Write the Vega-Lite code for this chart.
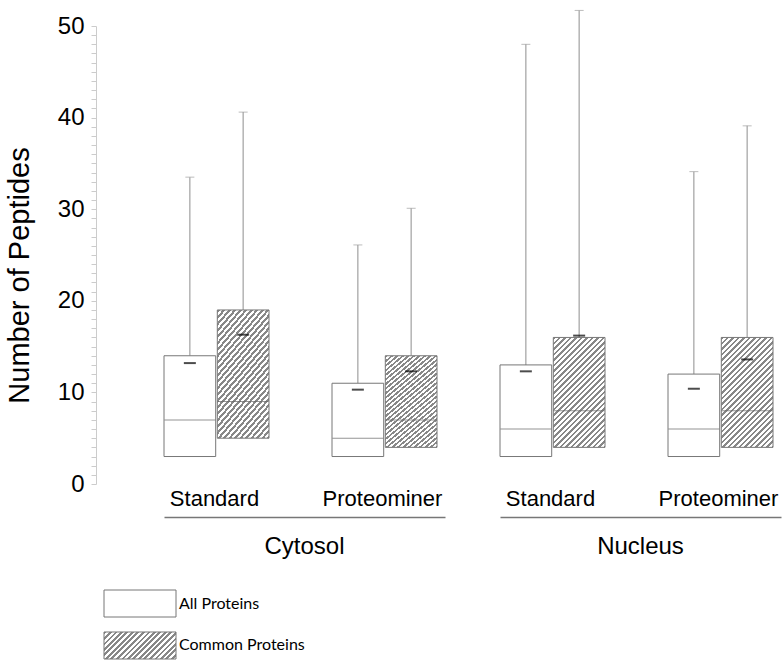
{
  "$schema": "https://vega.github.io/schema/vega-lite/v6.json",
  "padding": {"left": 5, "top": 9, "right": 4, "bottom": 5},
  "background": "white",
  "config": {"font": "Liberation Sans", "view": {"stroke": null}},
  "spacing": 30,
  "vconcat": [
    {
      "data": {"values": [
        {"compartment": "Cytosol", "method": "Standard", "set": "All", "q1": 3, "median": 7, "q3": 14, "max": 33.5, "mean": 13.2},
        {"compartment": "Cytosol", "method": "Standard", "set": "Common", "q1": 5, "median": 9, "q3": 19, "max": 40.6, "mean": 16.3},
        {"compartment": "Cytosol", "method": "Proteominer", "set": "All", "q1": 3, "median": 5, "q3": 11, "max": 26.1, "mean": 10.3},
        {"compartment": "Cytosol", "method": "Proteominer", "set": "Common", "q1": 4, "median": 7, "q3": 14, "max": 30.1, "mean": 12.3},
        {"compartment": "Nucleus", "method": "Standard", "set": "All", "q1": 3, "median": 6, "q3": 13, "max": 48, "mean": 12.3},
        {"compartment": "Nucleus", "method": "Standard", "set": "Common", "q1": 4, "median": 8, "q3": 16, "max": 51.7, "mean": 16.2},
        {"compartment": "Nucleus", "method": "Proteominer", "set": "All", "q1": 3, "median": 6, "q3": 12, "max": 34.1, "mean": 10.4},
        {"compartment": "Nucleus", "method": "Proteominer", "set": "Common", "q1": 4, "median": 8, "q3": 16, "max": 39.1, "mean": 13.6}
      ]},
      "facet": {"column": {"field": "compartment", "type": "nominal", "title": null, "sort": ["Cytosol", "Nucleus"],
        "header": {"labelOrient": "bottom", "labelFontSize": 24, "labelColor": "black", "labelPadding": 18, "labelFont": "Liberation Sans"}}},
      "spacing": 54,
      "spec": {
        "width": 281,
        "height": 458,
        "encoding": {
          "x": {"field": "method", "type": "nominal", "sort": ["Standard", "Proteominer"],
            "scale": {"domain": ["Standard", "Proteominer"], "paddingInner": 0.375, "paddingOuter": 0.0238, "align": 0},
            "axis": {"title": null, "orient": "bottom", "offset": 33, "ticks": false, "domainColor": "#777", "domainWidth": 1.5,
              "labelFontSize": 22, "labelColor": "black", "labelPadding": -12, "labelBaseline": "alphabetic", "labelAngle": 0, "labelOffset": -2}},
          "xOffset": {"field": "set", "type": "nominal", "scale": {"domain": ["All", "Common"], "paddingInner": 0.03, "paddingOuter": 0}}
        },
        "layer": [
          {"mark": {"type": "rule", "color": "#a0a0a0", "strokeWidth": 1.2},
           "encoding": {
             "y": {"field": "q3", "type": "quantitative", "title": "Number of Peptides", "scale": {"domain": [0, 50], "nice": false, "zero": true},
               "axis": {"titleFontSize": 29, "titleFontWeight": "normal", "titleColor": "black", "titlePadding": 23, "titleY": 249,
                 "values": [0,1,2,3,4,5,6,7,8,9,10,11,12,13,14,15,16,17,18,19,20,21,22,23,24,25,26,27,28,29,30,31,32,33,34,35,36,37,38,39,40,41,42,43,44,45,46,47,48,49,50],
                 "tickCount": 60,
                 "labelExpr": "datum.value % 10 == 0 ? datum.label : ''",
                 "labelFontSize": 24, "labelColor": "black", "labelPadding": 7, "labelOverlap": false,
                 "tickSize": 5,
                 "tickColor": "#ccc", "domainColor": "#ccc", "offset": 67, "grid": false}},
             "y2": {"field": "max"}}},
          {"mark": {"type": "tick", "color": "#a0a0a0", "size": 9, "thickness": 1},
           "encoding": {"y": {"field": "max", "type": "quantitative"}}},
          {"transform": [{"filter": "datum.set == 'All'"}],
           "mark": {"type": "bar", "fill": "white", "stroke": "#777", "strokeWidth": 1},
           "encoding": {"y": {"field": "q1", "type": "quantitative"}, "y2": {"field": "q3"}}},
          {"transform": [{"filter": "datum.set == 'Common'"}],
           "mark": {"type": "bar", "stroke": "#777", "strokeWidth": 1,
             "fill": {"gradient": "linear", "x1": 0, "y1": 0, "x2": 0.5778, "y2": 1.2282, "stops": [
{"offset":0,"color":"#888"},
{"offset":0.0167,"color":"#888"},{"offset":0.0167,"color":"#fff"},
{"offset":0.0333,"color":"#fff"},{"offset":0.0333,"color":"#888"},
{"offset":0.05,"color":"#888"},{"offset":0.05,"color":"#fff"},
{"offset":0.0667,"color":"#fff"},{"offset":0.0667,"color":"#888"},
{"offset":0.0833,"color":"#888"},{"offset":0.0833,"color":"#fff"},
{"offset":0.1,"color":"#fff"},{"offset":0.1,"color":"#888"},
{"offset":0.1167,"color":"#888"},{"offset":0.1167,"color":"#fff"},
{"offset":0.1333,"color":"#fff"},{"offset":0.1333,"color":"#888"},
{"offset":0.15,"color":"#888"},{"offset":0.15,"color":"#fff"},
{"offset":0.1667,"color":"#fff"},{"offset":0.1667,"color":"#888"},
{"offset":0.1833,"color":"#888"},{"offset":0.1833,"color":"#fff"},
{"offset":0.2,"color":"#fff"},{"offset":0.2,"color":"#888"},
{"offset":0.2167,"color":"#888"},{"offset":0.2167,"color":"#fff"},
{"offset":0.2333,"color":"#fff"},{"offset":0.2333,"color":"#888"},
{"offset":0.25,"color":"#888"},{"offset":0.25,"color":"#fff"},
{"offset":0.2667,"color":"#fff"},{"offset":0.2667,"color":"#888"},
{"offset":0.2833,"color":"#888"},{"offset":0.2833,"color":"#fff"},
{"offset":0.3,"color":"#fff"},{"offset":0.3,"color":"#888"},
{"offset":0.3167,"color":"#888"},{"offset":0.3167,"color":"#fff"},
{"offset":0.3333,"color":"#fff"},{"offset":0.3333,"color":"#888"},
{"offset":0.35,"color":"#888"},{"offset":0.35,"color":"#fff"},
{"offset":0.3667,"color":"#fff"},{"offset":0.3667,"color":"#888"},
{"offset":0.3833,"color":"#888"},{"offset":0.3833,"color":"#fff"},
{"offset":0.4,"color":"#fff"},{"offset":0.4,"color":"#888"},
{"offset":0.4167,"color":"#888"},{"offset":0.4167,"color":"#fff"},
{"offset":0.4333,"color":"#fff"},{"offset":0.4333,"color":"#888"},
{"offset":0.45,"color":"#888"},{"offset":0.45,"color":"#fff"},
{"offset":0.4667,"color":"#fff"},{"offset":0.4667,"color":"#888"},
{"offset":0.4833,"color":"#888"},{"offset":0.4833,"color":"#fff"},
{"offset":0.5,"color":"#fff"},{"offset":0.5,"color":"#888"},
{"offset":0.5167,"color":"#888"},{"offset":0.5167,"color":"#fff"},
{"offset":0.5333,"color":"#fff"},{"offset":0.5333,"color":"#888"},
{"offset":0.55,"color":"#888"},{"offset":0.55,"color":"#fff"},
{"offset":0.5667,"color":"#fff"},{"offset":0.5667,"color":"#888"},
{"offset":0.5833,"color":"#888"},{"offset":0.5833,"color":"#fff"},
{"offset":0.6,"color":"#fff"},{"offset":0.6,"color":"#888"},
{"offset":0.6167,"color":"#888"},{"offset":0.6167,"color":"#fff"},
{"offset":0.6333,"color":"#fff"},{"offset":0.6333,"color":"#888"},
{"offset":0.65,"color":"#888"},{"offset":0.65,"color":"#fff"},
{"offset":0.6667,"color":"#fff"},{"offset":0.6667,"color":"#888"},
{"offset":0.6833,"color":"#888"},{"offset":0.6833,"color":"#fff"},
{"offset":0.7,"color":"#fff"},{"offset":0.7,"color":"#888"},
{"offset":0.7167,"color":"#888"},{"offset":0.7167,"color":"#fff"},
{"offset":0.7333,"color":"#fff"},{"offset":0.7333,"color":"#888"},
{"offset":0.75,"color":"#888"},{"offset":0.75,"color":"#fff"},
{"offset":0.7667,"color":"#fff"},{"offset":0.7667,"color":"#888"},
{"offset":0.7833,"color":"#888"},{"offset":0.7833,"color":"#fff"},
{"offset":0.8,"color":"#fff"},{"offset":0.8,"color":"#888"},
{"offset":0.8167,"color":"#888"},{"offset":0.8167,"color":"#fff"},
{"offset":0.8333,"color":"#fff"},{"offset":0.8333,"color":"#888"},
{"offset":0.85,"color":"#888"},{"offset":0.85,"color":"#fff"},
{"offset":0.8667,"color":"#fff"},{"offset":0.8667,"color":"#888"},
{"offset":0.8833,"color":"#888"},{"offset":0.8833,"color":"#fff"},
{"offset":0.9,"color":"#fff"},{"offset":0.9,"color":"#888"},
{"offset":0.9167,"color":"#888"},{"offset":0.9167,"color":"#fff"},
{"offset":0.9333,"color":"#fff"},{"offset":0.9333,"color":"#888"},
{"offset":0.95,"color":"#888"},{"offset":0.95,"color":"#fff"},
{"offset":0.9667,"color":"#fff"},{"offset":0.9667,"color":"#888"},
{"offset":0.9833,"color":"#888"},{"offset":0.9833,"color":"#fff"},
{"offset":1,"color":"#fff"}]}},
           "encoding": {"y": {"field": "q1", "type": "quantitative"}, "y2": {"field": "q3"}}},
          {"mark": {"type": "tick", "color": "#666", "size": 51, "thickness": 1},
           "encoding": {"y": {"field": "median", "type": "quantitative"}}},
          {"mark": {"type": "tick", "color": "black", "size": 12, "thickness": 2},
           "encoding": {"y": {"field": "mean", "type": "quantitative"}}}
        ]
      }
    },
    {
      "width": 250,
      "height": 69,
      "data": {"values": [{"label": "All Proteins", "set": "All"}, {"label": "Common Proteins", "set": "Common"}]},
      "encoding": {"y": {"field": "label", "type": "nominal", "axis": null, "sort": null, "scale": {"paddingInner": 0.357, "paddingOuter": 0}}},
      "layer": [
        {"transform": [{"filter": "datum.set == 'All'"}],
         "mark": {"type": "bar", "fill": "white", "stroke": "#777", "strokeWidth": 1},
         "encoding": {"x": {"datum": -60, "type": "quantitative", "scale": {"domain": [0, 250], "nice": false, "zero": false}, "axis": null}, "x2": {"datum": 12}}},
        {"transform": [{"filter": "datum.set == 'Common'"}],
         "mark": {"type": "bar", "stroke": "#777", "strokeWidth": 1,
           "fill": {"gradient": "linear", "x1": 0, "y1": 0, "x2": 2.0091, "y2": 0.7534, "stops": [
{"offset":0,"color":"#888"},
{"offset":0.0167,"color":"#888"},{"offset":0.0167,"color":"#fff"},
{"offset":0.0333,"color":"#fff"},{"offset":0.0333,"color":"#888"},
{"offset":0.05,"color":"#888"},{"offset":0.05,"color":"#fff"},
{"offset":0.0667,"color":"#fff"},{"offset":0.0667,"color":"#888"},
{"offset":0.0833,"color":"#888"},{"offset":0.0833,"color":"#fff"},
{"offset":0.1,"color":"#fff"},{"offset":0.1,"color":"#888"},
{"offset":0.1167,"color":"#888"},{"offset":0.1167,"color":"#fff"},
{"offset":0.1333,"color":"#fff"},{"offset":0.1333,"color":"#888"},
{"offset":0.15,"color":"#888"},{"offset":0.15,"color":"#fff"},
{"offset":0.1667,"color":"#fff"},{"offset":0.1667,"color":"#888"},
{"offset":0.1833,"color":"#888"},{"offset":0.1833,"color":"#fff"},
{"offset":0.2,"color":"#fff"},{"offset":0.2,"color":"#888"},
{"offset":0.2167,"color":"#888"},{"offset":0.2167,"color":"#fff"},
{"offset":0.2333,"color":"#fff"},{"offset":0.2333,"color":"#888"},
{"offset":0.25,"color":"#888"},{"offset":0.25,"color":"#fff"},
{"offset":0.2667,"color":"#fff"},{"offset":0.2667,"color":"#888"},
{"offset":0.2833,"color":"#888"},{"offset":0.2833,"color":"#fff"},
{"offset":0.3,"color":"#fff"},{"offset":0.3,"color":"#888"},
{"offset":0.3167,"color":"#888"},{"offset":0.3167,"color":"#fff"},
{"offset":0.3333,"color":"#fff"},{"offset":0.3333,"color":"#888"},
{"offset":0.35,"color":"#888"},{"offset":0.35,"color":"#fff"},
{"offset":0.3667,"color":"#fff"},{"offset":0.3667,"color":"#888"},
{"offset":0.3833,"color":"#888"},{"offset":0.3833,"color":"#fff"},
{"offset":0.4,"color":"#fff"},{"offset":0.4,"color":"#888"},
{"offset":0.4167,"color":"#888"},{"offset":0.4167,"color":"#fff"},
{"offset":0.4333,"color":"#fff"},{"offset":0.4333,"color":"#888"},
{"offset":0.45,"color":"#888"},{"offset":0.45,"color":"#fff"},
{"offset":0.4667,"color":"#fff"},{"offset":0.4667,"color":"#888"},
{"offset":0.4833,"color":"#888"},{"offset":0.4833,"color":"#fff"},
{"offset":0.5,"color":"#fff"},{"offset":0.5,"color":"#888"},
{"offset":0.5167,"color":"#888"},{"offset":0.5167,"color":"#fff"},
{"offset":0.5333,"color":"#fff"},{"offset":0.5333,"color":"#888"},
{"offset":0.55,"color":"#888"},{"offset":0.55,"color":"#fff"},
{"offset":0.5667,"color":"#fff"},{"offset":0.5667,"color":"#888"},
{"offset":0.5833,"color":"#888"},{"offset":0.5833,"color":"#fff"},
{"offset":0.6,"color":"#fff"},{"offset":0.6,"color":"#888"},
{"offset":0.6167,"color":"#888"},{"offset":0.6167,"color":"#fff"}]}},
         "encoding": {"x": {"datum": -60, "type": "quantitative"}, "x2": {"datum": 12}}},
        {"mark": {"type": "text", "align": "left", "baseline": "middle", "font": "Lato", "fontSize": 16, "color": "black"},
         "encoding": {"x": {"datum": 15, "type": "quantitative"}, "text": {"field": "label"}}}
      ]
    }
  ]
}
